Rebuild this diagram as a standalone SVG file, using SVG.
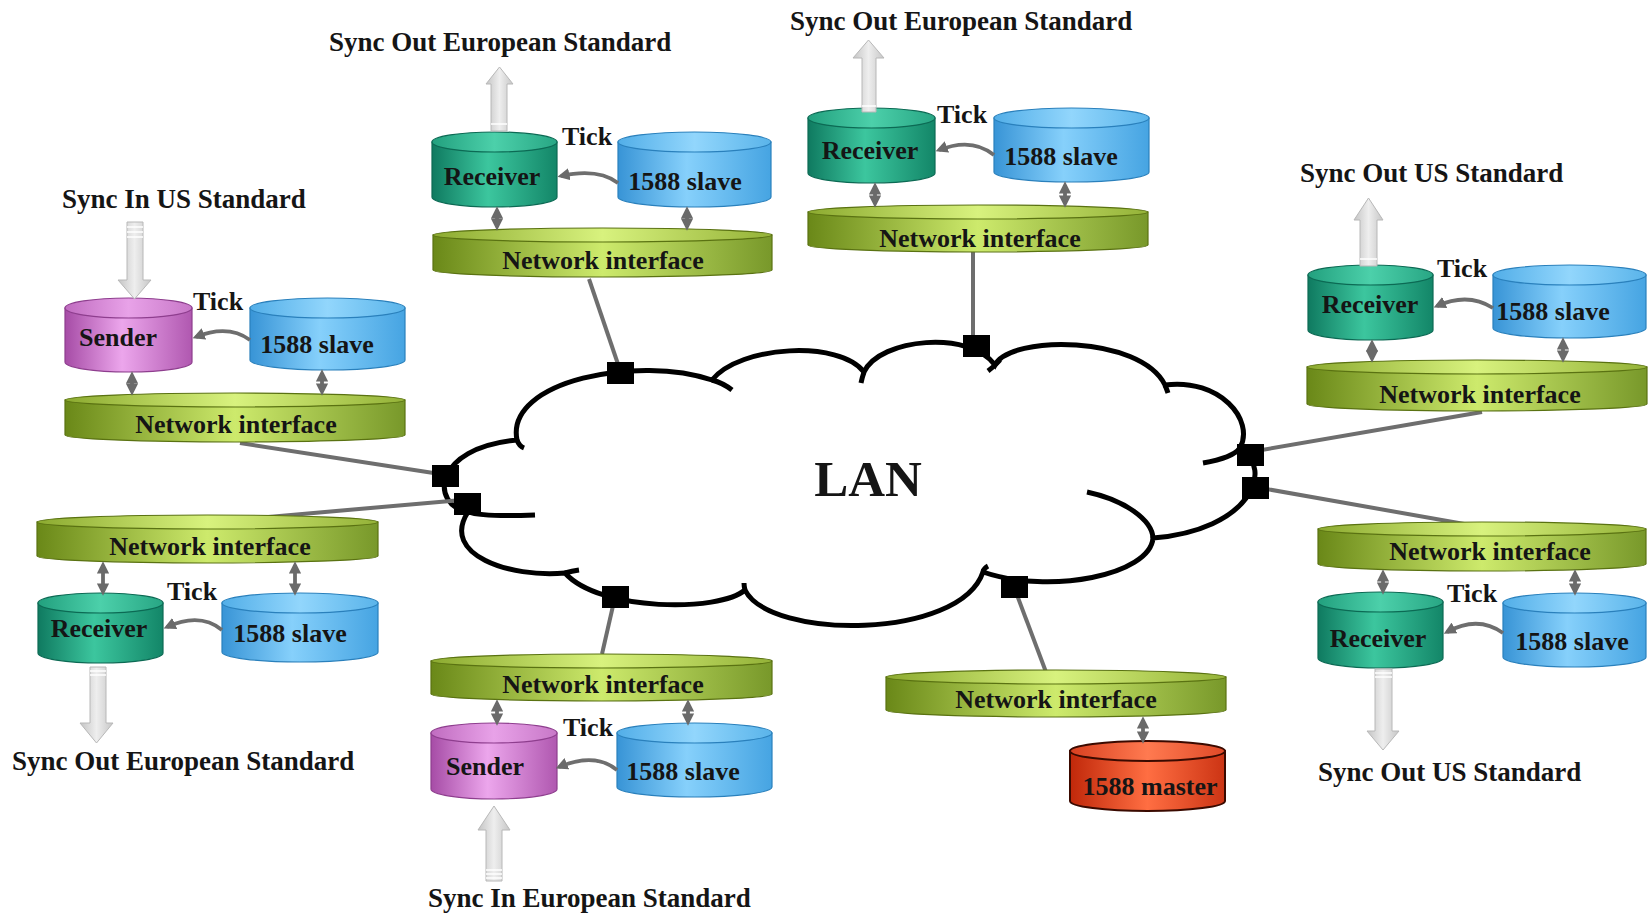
<svg xmlns="http://www.w3.org/2000/svg" width="1648" height="914" viewBox="0 0 1648 914">
<style>
.t{font-family:"Liberation Serif","Times New Roman",serif;font-weight:bold;fill:#151515}
.lbl{font-size:27px}
.in{font-size:26px;text-anchor:middle}
.tick{font-size:26px}
.wire{stroke:#6e6e6e;stroke-width:4;fill:none}
.dbl{stroke:#6a6a6a;stroke-width:3.8;fill:none;marker-start:url(#ah);marker-end:url(#ah)}
.tk{stroke:#6e6e6e;stroke-width:3.8;fill:none;marker-end:url(#ah)}
.blk{fill:url(#gArr);stroke:#b8b8b8;stroke-width:1}
.stripe{stroke:#ffffff;stroke-width:1.5}
.cloud{fill:#fff;stroke:#000;stroke-width:5}
.tail{fill:none;stroke:#000;stroke-width:5}
.port{fill:#000}
.send{fill:url(#gSend);stroke:#8e3e8e;stroke-width:1.2}
.sendT{fill:url(#gSendT);stroke:#8e3e8e;stroke-width:1.2}
.recv{fill:url(#gRecv);stroke:#0c6a54;stroke-width:1.2}
.recvT{fill:url(#gRecvT);stroke:#0c6a54;stroke-width:1.2}
.slv{fill:url(#gSlave);stroke:#2a80bc;stroke-width:1.2}
.slvT{fill:url(#gSlaveT);stroke:#2a80bc;stroke-width:1.2}
.ni{fill:url(#gNI);stroke:#5a7212;stroke-width:1.2}
.niT{fill:url(#gNIT);stroke:#5a7212;stroke-width:1.2}
.mst{fill:url(#gMst);stroke:#3a0a00;stroke-width:2}
.mstT{fill:url(#gMstT);stroke:#3a0a00;stroke-width:2}
</style>
<defs>
<marker id="ah" viewBox="0 0 10 10" refX="7" refY="5" markerWidth="3.2" markerHeight="3.2" orient="auto-start-reverse"><path d="M0,0 L10,5 L0,10 Z" fill="#6a6a6a"/></marker>
<linearGradient id="gArr" x1="0" y1="0" x2="1" y2="0"><stop offset="0" stop-color="#c4c4c4"/><stop offset="0.5" stop-color="#eeeeee"/><stop offset="1" stop-color="#c6c6c6"/></linearGradient>
<linearGradient id="gSend" x1="0" y1="0" x2="1" y2="0"><stop offset="0" stop-color="#a64ca6"/><stop offset="0.45" stop-color="#eca6ec"/><stop offset="1" stop-color="#b058b0"/></linearGradient>
<linearGradient id="gSendT" x1="0" y1="0" x2="1" y2="0"><stop offset="0" stop-color="#c06cc0"/><stop offset="0.5" stop-color="#e8a2e8"/><stop offset="1" stop-color="#c878c8"/></linearGradient>
<linearGradient id="gRecv" x1="0" y1="0" x2="1" y2="0"><stop offset="0" stop-color="#0f7a60"/><stop offset="0.45" stop-color="#3cc69e"/><stop offset="1" stop-color="#138668"/></linearGradient>
<linearGradient id="gRecvT" x1="0" y1="0" x2="1" y2="0"><stop offset="0" stop-color="#22a07e"/><stop offset="0.5" stop-color="#4cd0aa"/><stop offset="1" stop-color="#28a684"/></linearGradient>
<linearGradient id="gSlave" x1="0" y1="0" x2="1" y2="0"><stop offset="0" stop-color="#3894d6"/><stop offset="0.45" stop-color="#86d0fb"/><stop offset="1" stop-color="#46a4e2"/></linearGradient>
<linearGradient id="gSlaveT" x1="0" y1="0" x2="1" y2="0"><stop offset="0" stop-color="#52aee8"/><stop offset="0.5" stop-color="#92d6fc"/><stop offset="1" stop-color="#5ab4ea"/></linearGradient>
<linearGradient id="gNI" x1="0" y1="0" x2="1" y2="0"><stop offset="0" stop-color="#6a8818"/><stop offset="0.5" stop-color="#cdea6c"/><stop offset="1" stop-color="#78982a"/></linearGradient>
<linearGradient id="gNIT" x1="0" y1="0" x2="1" y2="0"><stop offset="0" stop-color="#8caa30"/><stop offset="0.5" stop-color="#d8f27e"/><stop offset="1" stop-color="#94b238"/></linearGradient>
<linearGradient id="gMst" x1="0" y1="0" x2="1" y2="0"><stop offset="0" stop-color="#c0280a"/><stop offset="0.5" stop-color="#ff6e42"/><stop offset="1" stop-color="#cc3414"/></linearGradient>
<linearGradient id="gMstT" x1="0" y1="0" x2="1" y2="0"><stop offset="0" stop-color="#d84020"/><stop offset="0.5" stop-color="#ff7a50"/><stop offset="1" stop-color="#e04a28"/></linearGradient>
</defs>
<rect width="1648" height="914" fill="#fff"/>

<g id="lan">
<path class="cloud" d="M468,512 C430,505 432,448 517,440 C505,380 640,355 712,380 C740,345 840,340 864,372 C880,338 970,330 995,365 C1010,335 1140,335 1165,385 C1220,378 1255,420 1240,448 C1275,470 1250,530 1153,538 C1150,575 1050,595 983,572 C960,640 770,640 745,590 C720,612 600,612 565,573 C510,578 440,555 468,512 Z"/>
<path class="tail" d="M468,512 C480,516 510,516 535,515"/>
<path class="tail" d="M517,440 Q519,446 524,448"/>
<path class="tail" d="M712,380 Q723,383 732,390"/>
<path class="tail" d="M864,372 Q862,378 861,383"/>
<path class="tail" d="M1000,360 Q995,366 988,371"/>
<path class="tail" d="M1165,385 Q1167,390 1168,393"/>
<path class="tail" d="M1240,448 C1235,455 1220,460 1203,463"/>
<path class="tail" d="M1153,538 C1152,520 1125,500 1087,492"/>
<path class="tail" d="M983,572 Q984,568 988,566"/>
<path class="tail" d="M745,590 Q744,586 744,583"/>
<path class="tail" d="M565,573 Q572,571 579,570"/>
<text class="t" x="868" y="496" font-size="51" text-anchor="middle">LAN</text>
</g>

<g id="connectors">
<line class="wire" x1="240" y1="443" x2="440" y2="474"/>
<line class="wire" x1="589" y1="279" x2="620" y2="370"/>
<line class="wire" x1="973" y1="252" x2="973" y2="344"/>
<line class="wire" x1="1482" y1="412" x2="1250" y2="452"/>
<line class="wire" x1="1255" y1="487" x2="1487" y2="528"/>
<line class="wire" x1="1014" y1="587" x2="1046" y2="672"/>
<line class="wire" x1="615" y1="597" x2="602" y2="654"/>
<line class="wire" x1="462" y1="500" x2="210" y2="522"/>
</g>

<g id="ports">
<rect class="port" x="607" y="362" width="27" height="22"/>
<rect class="port" x="432" y="465" width="27" height="22"/>
<rect class="port" x="454" y="493" width="27" height="22"/>
<rect class="port" x="602" y="586" width="27" height="22"/>
<rect class="port" x="963" y="335" width="27" height="22"/>
<rect class="port" x="1237" y="444" width="27" height="22"/>
<rect class="port" x="1242" y="477" width="27" height="22"/>
<rect class="port" x="1001" y="576" width="27" height="22"/>
</g>

<!-- Group 1: Sender US -->
<g id="g1">
<g id="g1-ni"><path class="ni" d="M65,400 V435 A170,7 0 0 0 405,435 V400 Z"/><ellipse class="niT" cx="235" cy="400" rx="170" ry="7"/><text class="t in" x="236" y="433">Network interface</text></g>
<g id="g1-sender"><path class="send" d="M65,308 V362 A63.5,10 0 0 0 192,362 V308 Z"/><ellipse class="sendT" cx="128.5" cy="308" rx="63.5" ry="10"/><text class="t in" x="118" y="346">Sender</text></g>
<g id="g1-slave"><path class="slv" d="M250,308 V360 A77.5,10 0 0 0 405,360 V308 Z"/><ellipse class="slvT" cx="327.5" cy="308" rx="77.5" ry="10"/><text class="t in" x="317" y="353">1588 slave</text></g>
<text class="t tick" x="193" y="310">Tick</text>
<polygon class="blk" points="127,222 143,222 143,280 151,280 134.5,299 118,280 127,280"/>
<line class="stripe" x1="127" y1="227" x2="143" y2="227"/><line class="stripe" x1="127" y1="232" x2="143" y2="232"/><line class="stripe" x1="127" y1="237" x2="143" y2="237"/>
<text class="t lbl" x="62" y="208">Sync In US Standard</text>
</g>

<!-- Group 2 -->
<g id="g2">
<g id="g2-ni"><path class="ni" d="M433,235 V270 A169.5,7 0 0 0 772,270 V235 Z"/><ellipse class="niT" cx="602.5" cy="235" rx="169.5" ry="7"/><text class="t in" x="603" y="269">Network interface</text></g>
<g id="g2-recv"><path class="recv" d="M432,142 V197 A62.5,10 0 0 0 557,197 V142 Z"/><ellipse class="recvT" cx="494.5" cy="142" rx="62.5" ry="10"/><text class="t in" x="492" y="185">Receiver</text></g>
<g id="g2-slave"><path class="slv" d="M618,142 V197 A76.5,10 0 0 0 771,197 V142 Z"/><ellipse class="slvT" cx="694.5" cy="142" rx="76.5" ry="10"/><text class="t in" x="685" y="190">1588 slave</text></g>
<text class="t tick" x="562" y="145">Tick</text>
<polygon class="blk" points="499.5,67 513,84 507,84 507,131 491,131 491,84 486,84"/>
<line class="stripe" x1="491" y1="124" x2="507" y2="124"/>
<text class="t lbl" x="329" y="51">Sync Out European Standard</text>
</g>

<!-- Group 3 -->
<g id="g3">
<g id="g3-ni"><path class="ni" d="M808,212 V245 A170,7 0 0 0 1148,245 V212 Z"/><ellipse class="niT" cx="978" cy="212" rx="170" ry="7"/><text class="t in" x="980" y="247">Network interface</text></g>
<g id="g3-recv"><path class="recv" d="M808,118 V173 A63.5,10 0 0 0 935,173 V118 Z"/><ellipse class="recvT" cx="871.5" cy="118" rx="63.5" ry="10"/><text class="t in" x="870" y="159">Receiver</text></g>
<g id="g3-slave"><path class="slv" d="M994,118 V172 A77.5,10 0 0 0 1149,172 V118 Z"/><ellipse class="slvT" cx="1071.5" cy="118" rx="77.5" ry="10"/><text class="t in" x="1061" y="165">1588 slave</text></g>
<text class="t tick" x="937" y="123">Tick</text>
<polygon class="blk" points="868.5,40 884,58 876,58 876,112 862,112 862,58 853,58"/>
<line class="stripe" x1="862" y1="106" x2="876" y2="106"/>
<text class="t lbl" x="790" y="30">Sync Out European Standard</text>
</g>

<!-- Group 4 -->
<g id="g4">
<g id="g4-ni"><path class="ni" d="M1307,367 V404 A170,7 0 0 0 1647,404 V367 Z"/><ellipse class="niT" cx="1477" cy="367" rx="170" ry="7"/><text class="t in" x="1480" y="403">Network interface</text></g>
<g id="g4-recv"><path class="recv" d="M1308,275 V330 A62.5,10 0 0 0 1433,330 V275 Z"/><ellipse class="recvT" cx="1370.5" cy="275" rx="62.5" ry="10"/><text class="t in" x="1370" y="313">Receiver</text></g>
<g id="g4-slave"><path class="slv" d="M1493,275 V328 A76.5,10 0 0 0 1646,328 V275 Z"/><ellipse class="slvT" cx="1569.5" cy="275" rx="76.5" ry="10"/><text class="t in" x="1553" y="320">1588 slave</text></g>
<text class="t tick" x="1437" y="277">Tick</text>
<polygon class="blk" points="1368.5,198 1383,220 1377,220 1377,266 1360,266 1360,220 1354,220"/>
<line class="stripe" x1="1360" y1="259" x2="1377" y2="259"/>
<text class="t lbl" x="1300" y="182">Sync Out US Standard</text>
</g>

<!-- Group 5 -->
<g id="g5">
<g id="g5-ni"><path class="ni" d="M1318,529 V564 A164,7 0 0 0 1646,564 V529 Z"/><ellipse class="niT" cx="1482" cy="529" rx="164" ry="7"/><text class="t in" x="1490" y="560">Network interface</text></g>
<g id="g5-recv"><path class="recv" d="M1318,602 V658 A62.5,10 0 0 0 1443,658 V602 Z"/><ellipse class="recvT" cx="1380.5" cy="602" rx="62.5" ry="10"/><text class="t in" x="1378" y="647">Receiver</text></g>
<g id="g5-slave"><path class="slv" d="M1503,603 V657 A71.5,10 0 0 0 1646,657 V603 Z"/><ellipse class="slvT" cx="1574.5" cy="603" rx="71.5" ry="10"/><text class="t in" x="1572" y="650">1588 slave</text></g>
<text class="t tick" x="1447" y="602">Tick</text>
<polygon class="blk" points="1375,669 1392,669 1392,731 1399,731 1383,750 1367,731 1375,731"/>
<line class="stripe" x1="1375" y1="673" x2="1392" y2="673"/><line class="stripe" x1="1375" y1="677" x2="1392" y2="677"/>
<text class="t lbl" x="1318" y="781">Sync Out US Standard</text>
</g>

<!-- Group 6: master -->
<g id="g6">
<g id="g6-ni"><path class="ni" d="M886,677 V710 A170,7 0 0 0 1226,710 V677 Z"/><ellipse class="niT" cx="1056" cy="677" rx="170" ry="7"/><text class="t in" x="1056" y="708">Network interface</text></g>
<g id="g6-master"><path class="mst" d="M1070,751 V801 A77.5,10 0 0 0 1225,801 V751 Z"/><ellipse class="mstT" cx="1147.5" cy="751" rx="77.5" ry="10"/><text class="t in" x="1150" y="795">1588 master</text></g>
</g>

<!-- Group 7 -->
<g id="g7">
<g id="g7-ni"><path class="ni" d="M431,661 V694 A170.5,7 0 0 0 772,694 V661 Z"/><ellipse class="niT" cx="601.5" cy="661" rx="170.5" ry="7"/><text class="t in" x="603" y="693">Network interface</text></g>
<g id="g7-sender"><path class="send" d="M431,733 V789 A63,10 0 0 0 557,789 V733 Z"/><ellipse class="sendT" cx="494" cy="733" rx="63" ry="10"/><text class="t in" x="485" y="775">Sender</text></g>
<g id="g7-slave"><path class="slv" d="M617,733 V787 A77.5,10 0 0 0 772,787 V733 Z"/><ellipse class="slvT" cx="694.5" cy="733" rx="77.5" ry="10"/><text class="t in" x="683" y="780">1588 slave</text></g>
<text class="t tick" x="563" y="736">Tick</text>
<polygon class="blk" points="494,806 510,830 502,830 502,881 486,881 486,830 478,830"/>
<line class="stripe" x1="486" y1="870" x2="502" y2="870"/><line class="stripe" x1="486" y1="874" x2="502" y2="874"/><line class="stripe" x1="486" y1="878" x2="502" y2="878"/>
<text class="t lbl" x="428" y="907">Sync In European Standard</text>
</g>

<!-- Group 8 -->
<g id="g8">
<g id="g8-ni"><path class="ni" d="M37,522 V556 A170.5,7 0 0 0 378,556 V522 Z"/><ellipse class="niT" cx="207.5" cy="522" rx="170.5" ry="7"/><text class="t in" x="210" y="555">Network interface</text></g>
<g id="g8-recv"><path class="recv" d="M38,603 V653 A62.5,10 0 0 0 163,653 V603 Z"/><ellipse class="recvT" cx="100.5" cy="603" rx="62.5" ry="10"/><text class="t in" x="99" y="637">Receiver</text></g>
<g id="g8-slave"><path class="slv" d="M222,603 V652 A78,10 0 0 0 378,652 V603 Z"/><ellipse class="slvT" cx="300" cy="603" rx="78" ry="10"/><text class="t in" x="290" y="642">1588 slave</text></g>
<text class="t tick" x="167" y="600">Tick</text>
<polygon class="blk" points="90,667 106,667 106,723 113,723 96.5,743 80,723 90,723"/>
<line class="stripe" x1="90" y1="671" x2="106" y2="671"/><line class="stripe" x1="90" y1="675" x2="106" y2="675"/>
<text class="t lbl" x="12" y="770">Sync Out European Standard</text>
</g>

<g id="inner-links">
<line class="dbl" x1="132" y1="375" x2="132" y2="392"/>
<line class="dbl" x1="322" y1="373" x2="322" y2="392"/>
<path class="tk" d="M250,340 Q228,324 196,337"/>
<line class="dbl" x1="497" y1="210" x2="497" y2="227"/>
<line class="dbl" x1="687" y1="210" x2="687" y2="227"/>
<path class="tk" d="M618,183 Q598,168 561,176"/>
<line class="dbl" x1="875" y1="186" x2="875" y2="204"/>
<line class="dbl" x1="1065" y1="185" x2="1065" y2="204"/>
<path class="tk" d="M994,155 Q972,137 939,150"/>
<line class="dbl" x1="1372" y1="343" x2="1372" y2="359"/>
<line class="dbl" x1="1563" y1="341" x2="1563" y2="359"/>
<path class="tk" d="M1493,308 Q1468,292 1437,306"/>
<line class="dbl" x1="1383" y1="573" x2="1383" y2="591"/>
<line class="dbl" x1="1575" y1="573" x2="1575" y2="592"/>
<path class="tk" d="M1503,633 Q1478,615 1447,632"/>
<line class="dbl" x1="1143" y1="720" x2="1143" y2="740"/>
<line class="dbl" x1="497" y1="703" x2="497" y2="722"/>
<line class="dbl" x1="688" y1="703" x2="688" y2="722"/>
<path class="tk" d="M617,770 Q595,752 559,767"/>
<line class="dbl" x1="103" y1="565" x2="103" y2="592"/>
<line class="dbl" x1="295" y1="565" x2="295" y2="592"/>
<path class="tk" d="M222,630 Q200,612 167,627"/>
</g>
</svg>
